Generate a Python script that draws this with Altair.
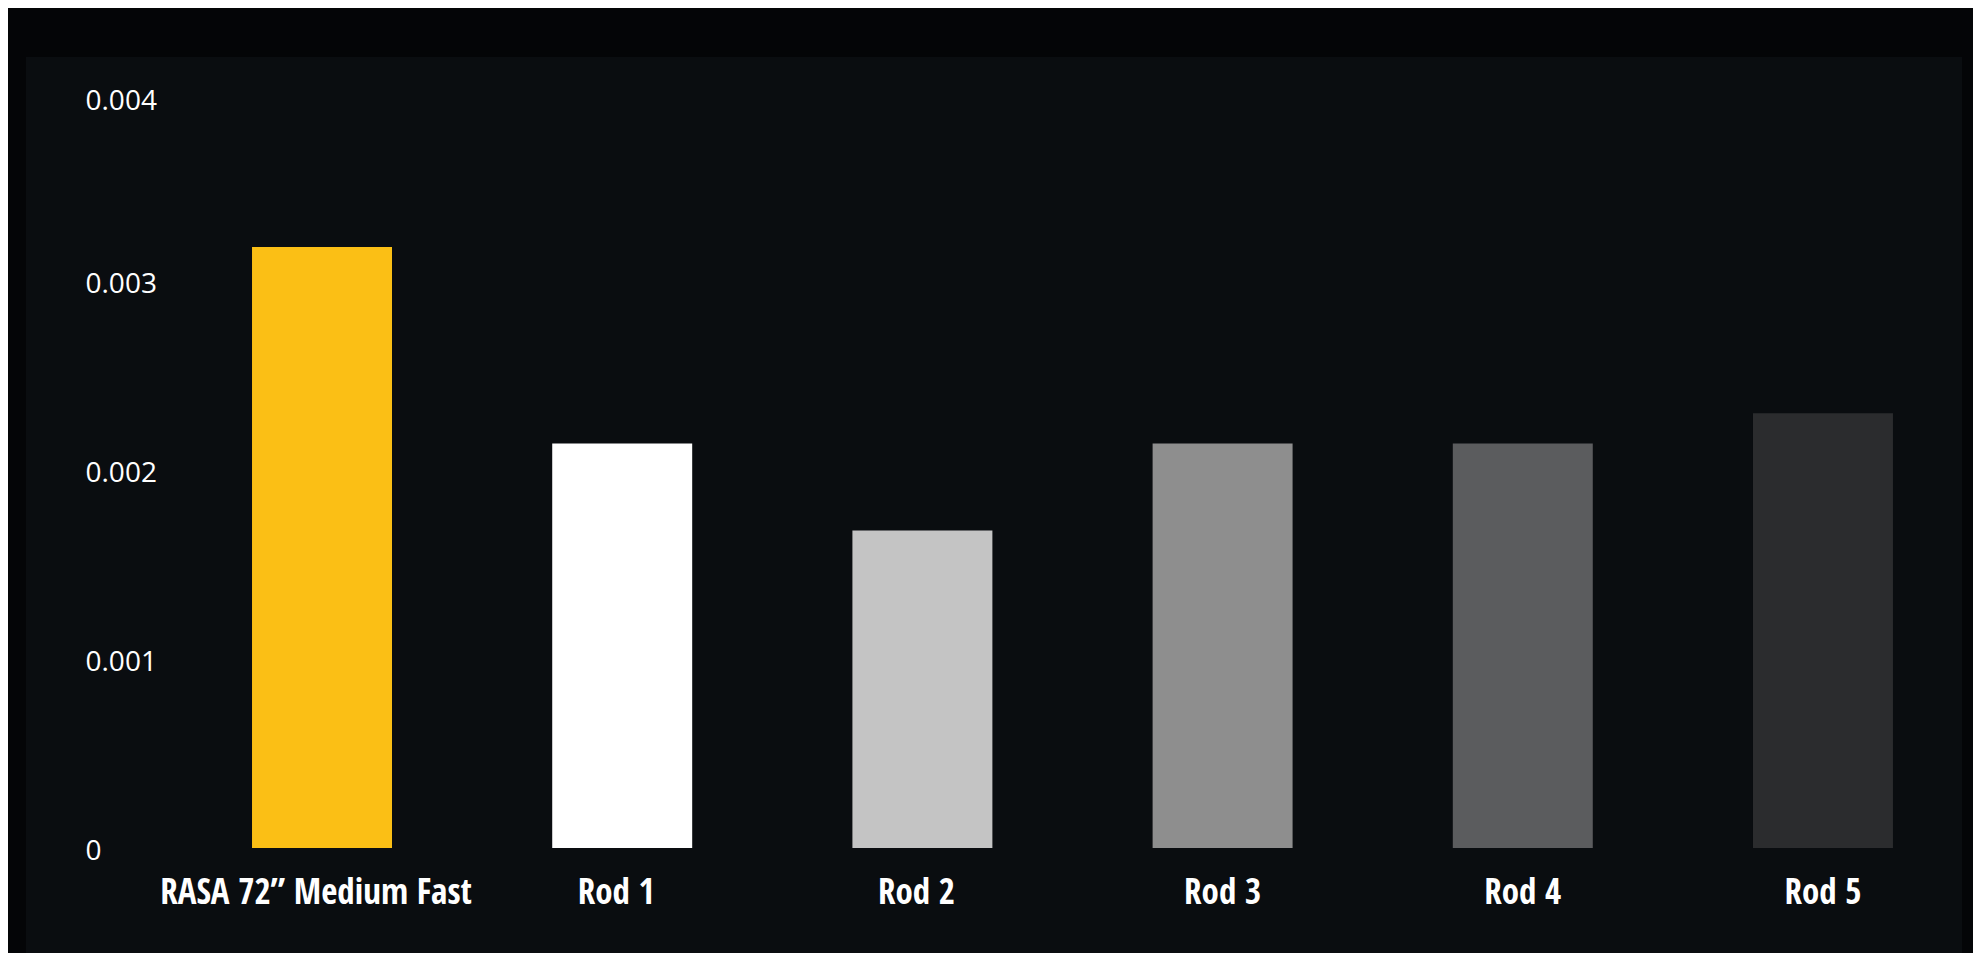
import altair as alt
import pandas as pd

categories = ["RASA 72\u201d Medium Fast", "Rod 1", "Rod 2", "Rod 3", "Rod 4", "Rod 5"]
values = [0.00318, 0.00214, 0.00168, 0.00214, 0.00214, 0.00230]
colors = ["#FBBF15", "#FFFFFF", "#C4C4C4", "#8E8E8E", "#5B5C5E", "#2B2C2E"]
y_ticks = [0, 0.001, 0.002, 0.003, 0.004]

df = pd.DataFrame({"cat": categories, "val": values, "col": colors})

W, H = 1701, 756

panel = alt.Chart(df).mark_rect(color="#0A0D10", clip=False).encode(
    x=alt.value(-196), x2=alt.value(1740), y=alt.value(-35), y2=alt.value(880)
)

bars = alt.Chart(df).mark_bar(clip=False).encode(
    x=alt.X(
        "cat:N",
        sort=categories,
        scale=alt.Scale(paddingInner=0.5337, paddingOuter=0.1),
        axis=alt.Axis(
            title=None,
            labelAngle=0,
            ticks=False,
            tickSize=0,
            domain=False,
            grid=False,
            zindex=2,
            labelPadding=27,
            labelFont="Noto Sans Condensed, Open Sans Condensed, Roboto Condensed, Liberation Sans Narrow, DejaVu Sans Condensed, sans-serif",
            labelFontWeight="bold",
            labelFontSize=35,
            labelColor="#FFFFFF",
            labelLimit=0,
            labelOffset={
                "condition": {
                    "test": "datum.value == 'Rod 3' || datum.value == 'Rod 4' || datum.value == 'Rod 5'",
                    "value": 0,
                },
                "value": -6,
            },
        ),
    ),
    y=alt.Y(
        "val:Q",
        scale=alt.Scale(domain=[0, 0.004], nice=False, zero=True),
        axis=alt.Axis(
            title=None,
            values=y_ticks,
            format="~g",
            ticks=False,
            tickSize=0,
            domain=False,
            grid=False,
            zindex=2,
            labelAlign="left",
            labelBaseline="middle",
            labelPadding=137,
            labelFont="Open Sans",
            labelFontSize=28,
            labelColor="#FFFFFF",
            labelFlush=False,
            labelOffset={"condition": {"test": "datum.value >= 0.004", "value": 9}, "value": 3},
        ),
    ),
    color=alt.Color("col:N", scale=None, legend=None),
)

chart = (
    alt.layer(panel, bars)
    .properties(
        width=W,
        height=H,
        background="#040507",
        padding={"left": 214, "top": 84, "right": 50, "bottom": 105},
        autosize=alt.AutoSizeParams(type="none"),
    )
    .configure_view(stroke=None)
)

chart.save("out.html", embed_options={"renderer": "svg", "actions": False})
